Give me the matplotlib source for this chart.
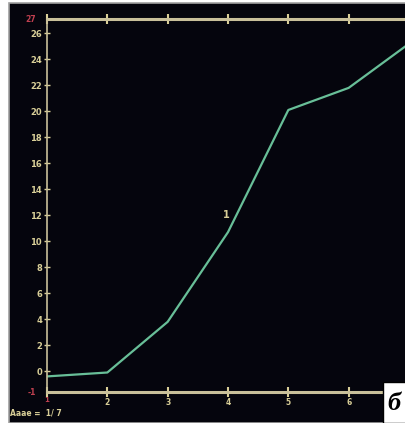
import matplotlib.pyplot as plt
from matplotlib.patches import Rectangle

# точки кривой 1
x_vals = [1, 2, 3, 4, 5, 6, 7]
y_vals = [-0.4, -0.1, 3.8, 10.7, 20.1, 21.8, 25.2]
y_ticks = [0, 2, 4, 6, 8, 10, 12, 14, 16, 18, 20, 22, 24, 26]
x_ticks = [1, 2, 3, 4, 5, 6, 7]

bg = '#05050d'
axis_col = '#c9c09a'
txt_col = '#d9cf98'
line_col = '#68bf98'

fig = plt.figure(figsize=(4.05, 4.23), dpi=100)
fig.patch.set_facecolor('white')
# тёмный экран с серой рамкой
fig.patches.append(Rectangle((9 / 405, 0), 1, 1 - 3 / 423, transform=fig.transFigure,
                             facecolor=bg, edgecolor='#a0a0a0', linewidth=1.2, zorder=-1))

ax = fig.add_axes([47 / 405, 31 / 423, 362 / 405, 373 / 423])
ax.set_zorder(2)
ax.set_facecolor(bg)
ax.plot(x_vals, y_vals, color=line_col, lw=1.6)
ax.set_xlim(1, 7)
ax.set_ylim(-1.6, 27.1)

ax.spines['right'].set_visible(False)
ax.spines['left'].set_color(axis_col)
ax.spines['left'].set_linewidth(1.2)
for s in ['top', 'bottom']:
    ax.spines[s].set_color(axis_col)
    ax.spines[s].set_linewidth(2.2)

ax.set_yticks(y_ticks)
ax.set_yticklabels([str(v) for v in y_ticks])
ax.set_xticks(x_ticks)
ax.set_xticklabels(['', '2', '3', '4', '5', '6', ''])
ax.tick_params(axis='y', colors=txt_col, labelsize=6, direction='inout', length=5,
               width=1, pad=1)
ax.tick_params(axis='x', colors=txt_col, labelsize=5.5, direction='inout', length=7,
               width=1.5, pad=1, top=True)
for lab in ax.get_xticklabels() + ax.get_yticklabels():
    lab.set_fontweight('bold')

# красные значения пределов
ax.text(-0.03, 27.1, '27', color='#c04050', fontsize=5.5, fontweight='bold',
        ha='right', va='center', transform=ax.get_yaxis_transform())
ax.text(-0.03, -1.6, '-1', color='#c04050', fontsize=5.5, fontweight='bold',
        ha='right', va='center', transform=ax.get_yaxis_transform())
ax.text(1, -2.25, '1', color='#c04050', fontsize=5, fontweight='bold',
        ha='center', va='center', clip_on=False)

# метка кривой
ax.text(3.98, 11.8, '1', color=txt_col, fontsize=7, fontweight='bold', ha='center')

fig.text(10 / 405, 1 - 413 / 423, 'Ааае =  1/ 7', color=txt_col, fontsize=5.5,
         fontweight='bold', va='center')

# подпись «б» в белой рамке
fig.patches.append(Rectangle((383 / 405, 0), 30 / 405, 41 / 423, transform=fig.transFigure,
                             facecolor='white', edgecolor='black', linewidth=1, zorder=5))
fig.text(394 / 405, 1 - 403 / 423, 'б', fontsize=19, fontweight='bold', style='italic',
         family='Liberation Serif', ha='center', va='center', color='black', zorder=6)

fig.savefig('out.png', dpi=100, facecolor=fig.get_facecolor())
